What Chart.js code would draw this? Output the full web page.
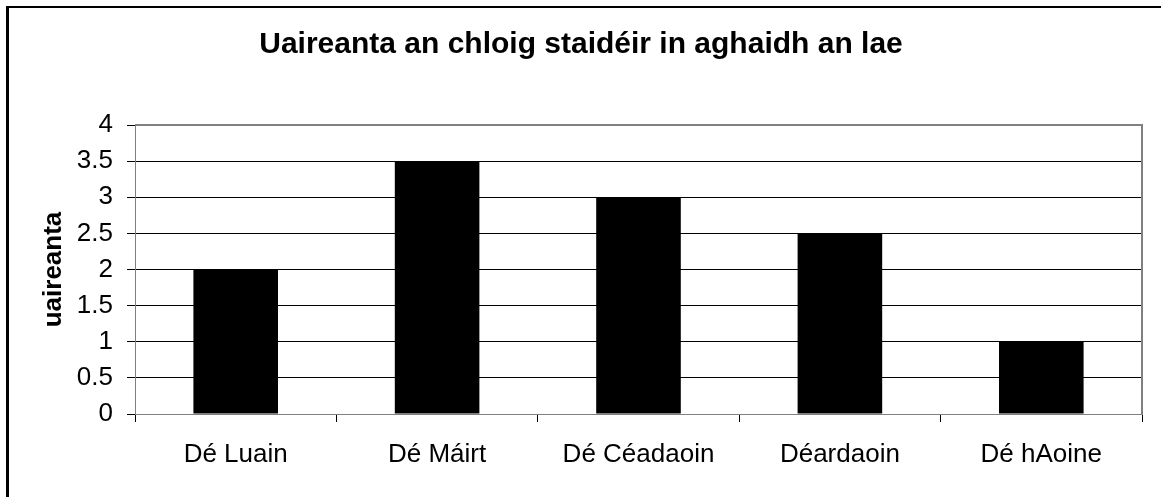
<!DOCTYPE html>
<html>
<head>
<meta charset="utf-8">
<script src="https://cdn.jsdelivr.net/npm/chart.js@4.4.1/dist/chart.umd.min.js"></script>
<style>
  html, body { margin: 0; padding: 0; background: #fff; }
  #wrap { width: 1161px; height: 497px; position: relative; }
</style>
</head>
<body>
<div id="wrap"><canvas id="chart" width="1161" height="497"></canvas></div>
<script>
const days = ["Dé Luain", "Dé Máirt", "Dé Céadaoin", "Déardaoin", "Dé hAoine"];
const hours = [2, 3.5, 3, 2.5, 1];
const chartTitle = "Uaireanta an chloig staidéir in aghaidh an lae";
const yTitle = "uaireanta";

Chart.defaults.font.family = "'Liberation Sans', Arial, sans-serif";
Chart.defaults.color = "#000";

// outer frame + grey plot border on top/right
const frame = {
  id: "frame",
  beforeDraw(chart) {
    const ctx = chart.ctx;
    ctx.save();
    ctx.fillStyle = "#000";
    ctx.fillRect(6, 6, 3, chart.height);
    ctx.fillRect(6, 6, chart.width, 2);
    ctx.restore();
  },
  afterDatasetsDraw(chart) {
    const a = chart.chartArea;
    const ctx = chart.ctx;
    ctx.save();
    ctx.strokeStyle = "#808080";
    ctx.lineWidth = 2;
    ctx.beginPath();
    ctx.moveTo(a.left, a.top);
    ctx.lineTo(a.right, a.top);
    ctx.lineTo(a.right, a.bottom);
    ctx.stroke();
    ctx.restore();
  }
};

new Chart(document.getElementById("chart"), {
  type: "bar",
  data: {
    labels: days,
    datasets: [{
      data: hours,
      backgroundColor: "#000",
      borderWidth: 0,
      categoryPercentage: 1,
      barPercentage: 0.42
    }]
  },
  options: {
    responsive: false,
    animation: false,
    layout: { padding: { left: 20, right: 19, top: 0, bottom: 23 } },
    plugins: {
      legend: { display: false },
      tooltip: { enabled: false },
      title: {
        display: true,
        text: chartTitle,
        font: { size: 30, weight: "bold" },
        padding: { top: 27, bottom: 62 }
      }
    },
    scales: {
      x: {
        afterFit: function (s) { s.height = 60; },
        grid: { offset: true, drawOnChartArea: false, tickLength: 8, color: "#000" },
        border: { color: "#808080", width: 1 },
        ticks: { font: { size: 26 }, padding: 17, maxRotation: 0 }
      },
      y: {
        min: 0,
        max: 4,
        afterFit: function (s) { s.width = 115; },
        ticks: {
          stepSize: 0.5,
          font: { size: 26 },
          padding: 14,
          callback: function (v) { return String(v); }
        },
        grid: { color: "#000", tickLength: 8 },
        border: { color: "#808080", width: 1 },
        title: {
          display: true,
          text: yTitle,
          font: { size: 26, weight: "bold" },
          padding: { top: 18, bottom: 0 }
        }
      }
    }
  },
  plugins: [frame]
});
</script>
</body>
</html>
